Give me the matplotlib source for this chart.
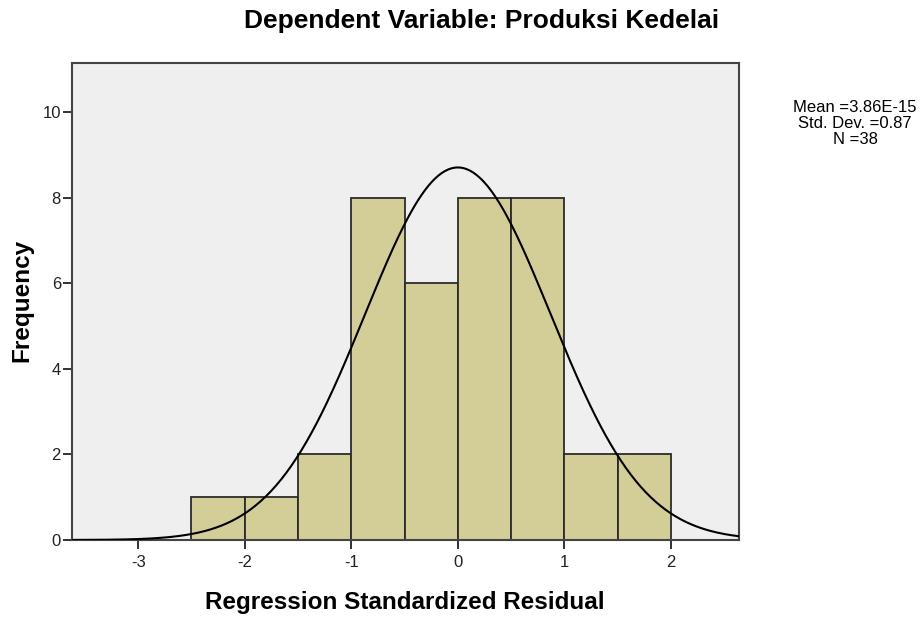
import numpy as np
import matplotlib.pyplot as plt

# histogram data
bin_edges = [-2.5, -2.0, -1.5, -1.0, -0.5, 0.0, 0.5, 1.0, 1.5, 2.0]
counts = [1, 1, 2, 8, 6, 8, 8, 2, 2]
mean = 3.86e-15
std_dev = 0.87
n_obs = 38
stats_lines = ['Mean =3.86E-15', 'Std. Dev. =0.87', 'N =38']

plt.rcParams['font.family'] = ['Liberation Sans', 'DejaVu Sans']
plt.rcParams['axes.unicode_minus'] = False

fig = plt.figure(figsize=(9.24, 6.2), dpi=100)
ax = fig.add_axes([0.078, 0.129, 0.722, 0.769])
ax.set_facecolor('#efefef')

widths = np.diff(bin_edges)
ax.bar(bin_edges[:-1], counts, width=widths, align='edge',
       color='#d3ce97', edgecolor='#2b2b2b', linewidth=1.3, zorder=2)

# fitted normal curve scaled to counts
xs = np.linspace(-3.62, 2.64, 400)
bw = widths[0]
ys = n_obs * bw / (std_dev * np.sqrt(2 * np.pi)) * np.exp(-0.5 * ((xs - mean) / std_dev) ** 2)
ax.plot(xs, ys, color='black', linewidth=1.5, zorder=3)

ax.set_xlim(-3.62, 2.64)
ax.set_ylim(0, 11.15)
ax.set_xticks([-3, -2, -1, 0, 1, 2])
ax.set_yticks([0, 2, 4, 6, 8, 10])
ax.tick_params(direction='out', length=6.5, width=1.3, labelsize=12, colors='#222222')
ax.tick_params(axis='y', pad=1.5)
ax.tick_params(axis='x', pad=4)
for s in ax.spines.values():
    s.set_linewidth(1.5)
    s.set_color('#444444')

fig.text(482 / 924, 1 - 21 / 620, 'Dependent Variable: Produksi Kedelai',
         ha='center', va='center', fontsize=19, fontweight='bold')
fig.text(405 / 924, 1 - 603 / 620, 'Regression Standardized Residual',
         ha='center', va='center', fontsize=17.5, fontweight='bold')
fig.text(22 / 924, 1 - 300 / 620, 'Frequency', rotation=90,
         ha='center', va='center', fontsize=17.5, fontweight='bold')

# summary stats box, one line at a time
for i, line in enumerate(stats_lines):
    fig.text(855 / 924, 1 - (107 + 16.5 * i) / 620, line,
             ha='center', va='center', fontsize=12)

fig.savefig('out.png', dpi=100)
